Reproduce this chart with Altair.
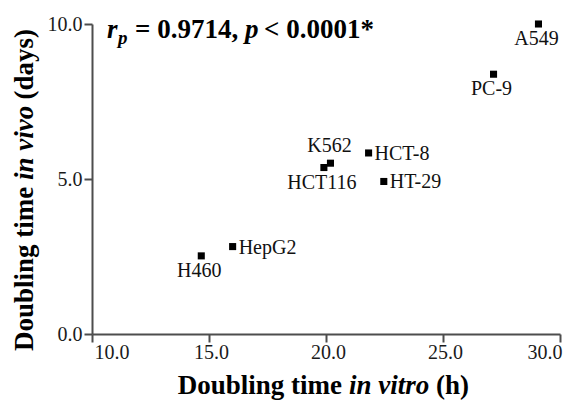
import altair as alt
import pandas as pd

# ---- data ----
cell_lines = ["A549", "PC-9", "HCT-8", "HT-29", "K562", "HCT116", "HepG2", "H460"]
in_vitro_h = [29.08, 27.16, 21.82, 22.47, 20.19, 19.91, 16.01, 14.67]
in_vivo_days = [10.0, 8.38, 5.84, 4.92, 5.51, 5.37, 2.82, 2.52]

x_ticks = [10, 15, 20, 25, 30]
y_ticks = [0, 5, 10]

labels_below = ["A549", "PC-9", "HCT116", "H460"]
labels_above = ["K562"]
labels_right = ["HCT-8", "HT-29", "HepG2"]

annotation_parts = ["r", "p", "= 0.9714,", "p", "< 0.0001*"]
x_title_parts = ["Doubling time", "in vitro", "(h)"]
y_title_parts = ["Doubling time", "in vivo", "(days)"]

df = pd.DataFrame({"name": cell_lines, "vitro": in_vitro_h, "vivo": in_vivo_days})

FONT = "'Liberation Serif', 'Times New Roman', Times, serif"
AX = "#4d4d4d"

xenc = alt.X(
    "vitro:Q",
    scale=alt.Scale(domain=[10, 30], nice=False, zero=False),
    axis=alt.Axis(values=x_ticks, format=".1f", title=None, grid=False,
                  domainColor=AX, domainWidth=2, tickColor=AX, tickWidth=2,
                  tickSize=8, labelFont=FONT, labelFontSize=20,
                  labelColor="#1a1a1a", labelPadding=0, labelOffset=2),
)
yenc = alt.Y(
    "vivo:Q",
    scale=alt.Scale(domain=[0, 10], nice=False, zero=False),
    axis=alt.Axis(values=y_ticks, format=".1f", title=None, grid=False,
                  domainColor=AX, domainWidth=2, tickColor=AX, tickWidth=2,
                  tickSize=8, labelFont=FONT, labelFontSize=20,
                  labelColor="#1a1a1a", labelPadding=2),
)

base = alt.Chart(df)

points = base.mark_square(size=50, color="black", opacity=1, filled=True).encode(x=xenc, y=yenc)

lab_common = dict(font=FONT, fontSize=20, color="#111111")
lab_below = base.mark_text(align="center", baseline="alphabetic", dx=-2, dy=21, **lab_common).encode(
    x="vitro:Q", y="vivo:Q", text="name:N"
).transform_filter(alt.FieldOneOfPredicate(field="name", oneOf=labels_below))
lab_above = base.mark_text(align="center", baseline="alphabetic", dx=-1, dy=-11, **lab_common).encode(
    x="vitro:Q", y="vivo:Q", text="name:N"
).transform_filter(alt.FieldOneOfPredicate(field="name", oneOf=labels_above))
lab_right = base.mark_text(align="left", baseline="alphabetic", dx=6, dy=7, **lab_common).encode(
    x="vitro:Q", y="vivo:Q", text="name:N"
).transform_filter(alt.FieldOneOfPredicate(field="name", oneOf=labels_right))


def piece(s, x, y, size=27, style="normal", align="left", angle=0):
    d = pd.DataFrame({"t": [s]})
    kw = dict(font=FONT, fontSize=size, fontWeight="bold", fontStyle=style,
              align=align, baseline="alphabetic", color="#000000")
    if angle:
        kw["angle"] = angle
    return alt.Chart(d).mark_text(**kw).encode(
        x=alt.value(x), y=alt.value(y), text="t:N"
    )


ann = [
    piece(annotation_parts[0], 15, 14, style="italic"),
    piece(annotation_parts[1], 26, 20, size=19, style="italic"),
    piece(annotation_parts[2], 43, 14),
    piece(annotation_parts[3], 153, 14, style="italic"),
    piece(annotation_parts[4], 172, 14),
]

xt = [
    piece(x_title_parts[0], 250, 370, align="right"),
    piece(x_title_parts[1], 257, 370, style="italic"),
    piece(x_title_parts[2], 344, 370),
]

yt = [
    piece(y_title_parts[0], -59, 327, angle=270),
    piece(y_title_parts[1], -59, 156, style="italic", angle=270),
    piece(y_title_parts[2], -59, 75.5, angle=270),
]

chart = alt.layer(points, lab_below, lab_above, lab_right, *ann, *xt, *yt).properties(
    width=468, height=310,
    autosize=alt.AutoSizeParams(type="none"),
    padding={"left": 84, "top": 16, "right": 14, "bottom": 68},
    background="white",
).configure_view(stroke=None)

chart.save("out.html", embed_options={"renderer": "svg", "actions": False})
